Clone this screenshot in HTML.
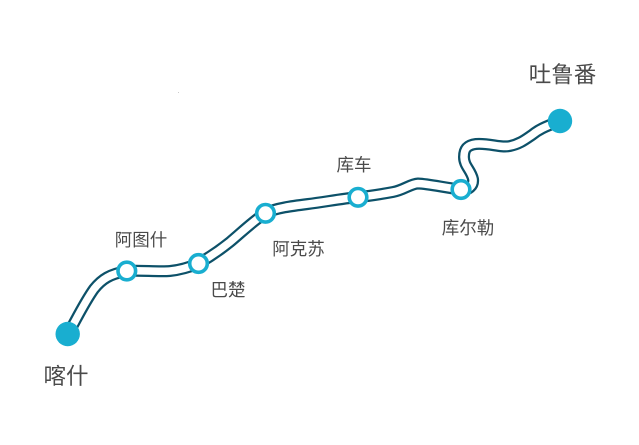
<!DOCTYPE html>
<html lang="zh">
<head>
<meta charset="utf-8">
<title>路线图</title>
<style>
html,body{margin:0;padding:0;background:#fff;}
svg{display:block;}
text{font-family:"Liberation Sans","Noto Sans CJK SC",sans-serif;fill:#4a4a4a;text-anchor:middle;}
</style>
</head>
<body>
<svg width="639" height="445" viewBox="0 0 639 445" xmlns="http://www.w3.org/2000/svg">
<rect width="639" height="445" fill="#fff"/>
<rect x="178" y="92" width="1" height="1" fill="#ccc"/>
<path d="M68 334C75 322 84 303 94 289C102 279 110 274 127 271C140 270 158 272 170 271C180 270 190 267 198.500 263.500C208 258 220 250 230 242C242 232 252 222 265.500 213C276 208 292 206 308 204C324 202 340 199 358 197C370 196 382 194 393 192C404 190 410 184 418 183.500C430 184 446 188 461 189.500C468 191 474 186 473 179C471 170 464 166 464 157C464 148 468 145 476 144C490 143 500 148 510 146C520 144 526 139 532 135C538 130 544 127 560 121" fill="none" stroke="#0d5169" stroke-width="12" stroke-linecap="round" stroke-linejoin="round"/>
<path d="M68 334C75 322 84 303 94 289C102 279 110 274 127 271C140 270 158 272 170 271C180 270 190 267 198.500 263.500C208 258 220 250 230 242C242 232 252 222 265.500 213C276 208 292 206 308 204C324 202 340 199 358 197C370 196 382 194 393 192C404 190 410 184 418 183.500C430 184 446 188 461 189.500C468 191 474 186 473 179C471 170 464 166 464 157C464 148 468 145 476 144C490 143 500 148 510 146C520 144 526 139 532 135C538 130 544 127 560 121" fill="none" stroke="#fff" stroke-width="7.500" stroke-linecap="round" stroke-linejoin="round"/>
<g fill="#19aed0">
<circle cx="67.700" cy="334" r="12.200"/>
<circle cx="560" cy="121" r="12.200"/>
</g>
<g fill="#fff" stroke="#19aed0" stroke-width="3.600">
<circle cx="126.800" cy="271" r="8.800"/>
<circle cx="198.500" cy="263.500" r="8.800"/>
<circle cx="265.500" cy="213.300" r="8.800"/>
<circle cx="358" cy="197.300" r="8.800"/>
<circle cx="461" cy="189.500" r="8.800"/>
</g>
<text x="141" y="246" font-size="17.500">阿图什</text>
<text x="228" y="296" font-size="17.500">巴楚</text>
<text x="298.500" y="255" font-size="17.500">阿克苏</text>
<text x="354" y="171" font-size="17.500">库车</text>
<text x="468" y="234" font-size="17.500">库尔勒</text>
<text x="66" y="384" font-size="22.500">喀什</text>
<text x="562.500" y="82.500" font-size="22.500">吐鲁番</text>
</svg>
</body>
</html>
